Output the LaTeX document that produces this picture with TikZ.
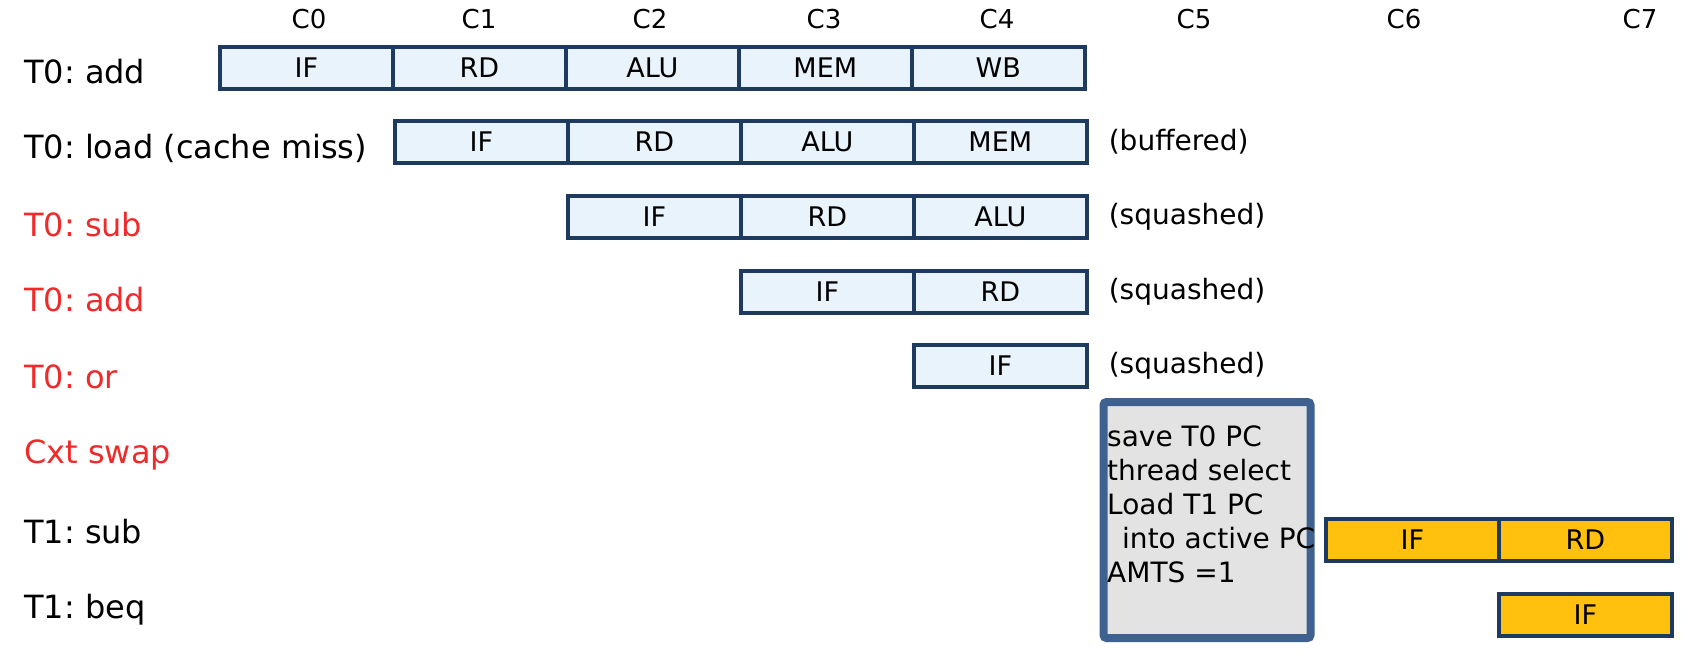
\documentclass[tikz,border=0pt]{standalone}
\usepackage{fontspec}
\setmainfont{DejaVu Sans}
\usetikzlibrary{positioning}
\frenchspacing

\definecolor{stagefill}{HTML}{E8F3FB}
\definecolor{stageedge}{HTML}{1F3A60}
\definecolor{threadfill}{HTML}{FFC00E}
\definecolor{swapfill}{HTML}{E3E3E3}
\definecolor{swapedge}{HTML}{3E6190}
\definecolor{flushred}{HTML}{EE2A2A}

\begin{document}
\begin{tikzpicture}[x=1pt, y=-1pt,
    stage/.style={draw=stageedge, line width=3.6pt, fill=stagefill,
      minimum width=173pt, minimum height=42pt, inner sep=0pt, anchor=west,
      font=\fontsize{27}{32}\selectfont},
    tstage/.style={stage, fill=threadfill},
    instr/.style={anchor=west, inner sep=0pt, font=\fontsize{32}{36}\selectfont},
    cycle/.style={inner sep=0pt, font=\fontsize{26}{30}\selectfont},
    note/.style={anchor=west, inner sep=0pt, font=\fontsize{28}{32}\selectfont}]
    \useasboundingbox (0,0) rectangle (1689,661);

    % cycle numbers
    \foreach \cx [count=\c from 0] in {309,479,650,824,997,1194,1404,1640}
      \node[cycle] (cyc-\c) at (\cx, 19) {C\c};

    % instruction names
    \node[instr] (lbl-add) at (24, 72) {T0: add};
    \node[instr] (lbl-load) at (24, 148) {T0: load (cache miss)};
    \node[instr, text=flushred] (lbl-sub) at (24, 225) {T0: sub};
    \node[instr, text=flushred] (lbl-addb) at (24, 300) {T0: add};
    \node[instr, text=flushred] (lbl-or) at (24, 377) {T0: or};
    \node[instr, text=flushred] (lbl-swap) at (24, 455) {Cxt swap};
    \node[instr] (lbl-tsub) at (24, 532) {T1: sub};
    \node[instr] (lbl-beq) at (24, 610) {T1: beq};

    % T0 pipeline stages
    \foreach \stg [count=\k from 0] in {IF,RD,ALU,MEM,WB}
      \node[stage] (add-\k) at ({218+173*\k}, 68) {\stg};
    \foreach \stg [count=\k from 0] in {IF,RD,ALU,MEM}
      \node[stage] (load-\k) at ({393+173*\k}, 142) {\stg};
    \foreach \stg [count=\k from 0] in {IF,RD,ALU}
      \node[stage] (sub-\k) at ({566+173*\k}, 217) {\stg};
    \foreach \stg [count=\k from 0] in {IF,RD}
      \node[stage] (addb-\k) at ({739+173*\k}, 292) {\stg};
    \node[stage] (or-0) at (912, 366) {IF};

    \node[note, right=20pt of load-3] (buffered) {(buffered)};
    \node[note, right=20pt of sub-2] (squash-sub) {(squashed)};
    \node[note, right=20pt of addb-1] (squash-add) {(squashed)};
    \node[note, right=20pt of or-0] (squash-or) {(squashed)};

    % context swap
    \node[draw=swapedge, line width=8pt, fill=swapfill, rounded corners=3pt,
      minimum width=207pt, minimum height=236pt, inner sep=0pt] (swap) at (1207, 520) {};
    \node[anchor=north west, inner sep=0pt, align=left,
      font=\fontsize{28}{34}\selectfont] (swap-text) at (1107, 426)
      {save T0 PC\\thread select\\Load T1 PC\\\hspace*{15pt}into active PC\\AMTS =1};

    % T1 pipeline stages
    \foreach \stg [count=\k from 0] in {IF,RD}
      \node[tstage] (tsub-\k) at ({1324+173*\k}, 540) {\stg};
    \node[tstage] (beq-0) at (1497, 615) {IF};
  \end{tikzpicture}
\end{document}
